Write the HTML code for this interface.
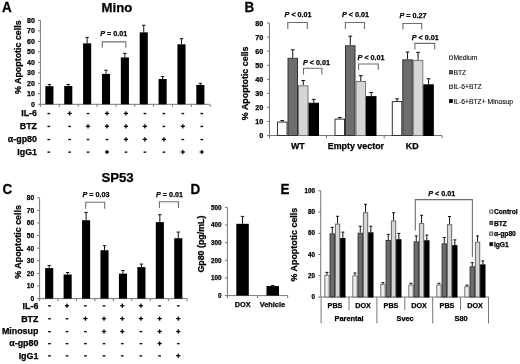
<!DOCTYPE html>
<html><head><meta charset="utf-8"><style>
html,body{margin:0;padding:0;background:#fff;}
body{width:520px;height:364px;overflow:hidden;}
svg{display:block;will-change:transform;}
text{stroke:currentColor;stroke-width:0.25px;font-family:"Liberation Sans", sans-serif;}
</style></head><body>
<svg width="520" height="364" viewBox="0 0 520 364">
<rect width="520" height="364" fill="#fff"/>
<text transform="translate(2.0 12.3) scale(0.95 1)" x="0" y="0" font-size="14.2" font-weight="bold">A</text>
<text x="101.6" y="11.8" font-size="13.2" text-anchor="start" font-weight="bold" fill="#000">Mino</text>
<line x1="40.4" y1="20.39999999999999" x2="40.4" y2="104.3" stroke="#777777" stroke-width="1"/>
<line x1="37.9" y1="104.3" x2="40.4" y2="104.3" stroke="#777777" stroke-width="1"/>
<text x="34.8" y="106.7" font-size="7.0" text-anchor="end" font-weight="bold" fill="#000">0</text>
<line x1="37.9" y1="93.8125" x2="40.4" y2="93.8125" stroke="#777777" stroke-width="1"/>
<text x="34.8" y="96.2125" font-size="7.0" text-anchor="end" font-weight="bold" fill="#000">10</text>
<line x1="37.9" y1="83.32499999999999" x2="40.4" y2="83.32499999999999" stroke="#777777" stroke-width="1"/>
<text x="34.8" y="85.725" font-size="7.0" text-anchor="end" font-weight="bold" fill="#000">20</text>
<line x1="37.9" y1="72.8375" x2="40.4" y2="72.8375" stroke="#777777" stroke-width="1"/>
<text x="34.8" y="75.23750000000001" font-size="7.0" text-anchor="end" font-weight="bold" fill="#000">30</text>
<line x1="37.9" y1="62.349999999999994" x2="40.4" y2="62.349999999999994" stroke="#777777" stroke-width="1"/>
<text x="34.8" y="64.75" font-size="7.0" text-anchor="end" font-weight="bold" fill="#000">40</text>
<line x1="37.9" y1="51.8625" x2="40.4" y2="51.8625" stroke="#777777" stroke-width="1"/>
<text x="34.8" y="54.262499999999996" font-size="7.0" text-anchor="end" font-weight="bold" fill="#000">50</text>
<line x1="37.9" y1="41.375" x2="40.4" y2="41.375" stroke="#777777" stroke-width="1"/>
<text x="34.8" y="43.775" font-size="7.0" text-anchor="end" font-weight="bold" fill="#000">60</text>
<line x1="37.9" y1="30.887500000000003" x2="40.4" y2="30.887500000000003" stroke="#777777" stroke-width="1"/>
<text x="34.8" y="33.2875" font-size="7.0" text-anchor="end" font-weight="bold" fill="#000">70</text>
<line x1="37.9" y1="20.39999999999999" x2="40.4" y2="20.39999999999999" stroke="#777777" stroke-width="1"/>
<text x="34.8" y="22.79999999999999" font-size="7.0" text-anchor="end" font-weight="bold" fill="#000">80</text>
<text x="21.3" y="57.2" font-size="8.9" text-anchor="middle" font-weight="bold" transform="rotate(-90 21.3 57.2)" fill="#000">% Apoptotic cells</text>
<line x1="40.4" y1="104.3" x2="209.6" y2="104.3" stroke="#777777" stroke-width="1"/>
<line x1="40.4" y1="104.3" x2="40.4" y2="106.89999999999999" stroke="#777777" stroke-width="1"/>
<line x1="59.269999999999996" y1="104.3" x2="59.269999999999996" y2="106.89999999999999" stroke="#777777" stroke-width="1"/>
<line x1="78.14" y1="104.3" x2="78.14" y2="106.89999999999999" stroke="#777777" stroke-width="1"/>
<line x1="97.00999999999999" y1="104.3" x2="97.00999999999999" y2="106.89999999999999" stroke="#777777" stroke-width="1"/>
<line x1="115.88" y1="104.3" x2="115.88" y2="106.89999999999999" stroke="#777777" stroke-width="1"/>
<line x1="134.75" y1="104.3" x2="134.75" y2="106.89999999999999" stroke="#777777" stroke-width="1"/>
<line x1="153.62" y1="104.3" x2="153.62" y2="106.89999999999999" stroke="#777777" stroke-width="1"/>
<line x1="172.49" y1="104.3" x2="172.49" y2="106.89999999999999" stroke="#777777" stroke-width="1"/>
<line x1="191.36" y1="104.3" x2="191.36" y2="106.89999999999999" stroke="#777777" stroke-width="1"/>
<line x1="210.23000000000002" y1="104.3" x2="210.23000000000002" y2="106.89999999999999" stroke="#777777" stroke-width="1"/>
<line x1="49.4" y1="86.15662499999999" x2="49.4" y2="84.58349999999999" stroke="#111" stroke-width="1"/>
<line x1="47.699999999999996" y1="84.58349999999999" x2="51.1" y2="84.58349999999999" stroke="#111" stroke-width="1"/>
<rect x="45.35" y="86.15662499999999" width="8.1" height="18.143375000000006" fill="#000"/>
<line x1="68.27" y1="86.05175" x2="68.27" y2="84.478625" stroke="#111" stroke-width="1"/>
<line x1="66.57" y1="84.478625" x2="69.97" y2="84.478625" stroke="#111" stroke-width="1"/>
<rect x="64.22" y="86.05175" width="8.1" height="18.24825" fill="#000"/>
<line x1="87.14" y1="43.367625" x2="87.14" y2="37.38975000000001" stroke="#111" stroke-width="1"/>
<line x1="85.44" y1="37.38975000000001" x2="88.84" y2="37.38975000000001" stroke="#111" stroke-width="1"/>
<rect x="83.09" y="43.367625" width="8.1" height="60.932375" fill="#000"/>
<line x1="106.00999999999999" y1="73.88624999999999" x2="106.00999999999999" y2="70.21562499999999" stroke="#111" stroke-width="1"/>
<line x1="104.30999999999999" y1="70.21562499999999" x2="107.71" y2="70.21562499999999" stroke="#111" stroke-width="1"/>
<rect x="101.96" y="73.88624999999999" width="8.1" height="30.413750000000007" fill="#000"/>
<line x1="124.88" y1="57.420874999999995" x2="124.88" y2="53.330749999999995" stroke="#111" stroke-width="1"/>
<line x1="123.17999999999999" y1="53.330749999999995" x2="126.58" y2="53.330749999999995" stroke="#111" stroke-width="1"/>
<rect x="120.83" y="57.420874999999995" width="8.1" height="46.879125" fill="#000"/>
<line x1="143.75" y1="32.35575" x2="143.75" y2="25.224249999999984" stroke="#111" stroke-width="1"/>
<line x1="142.05" y1="25.224249999999984" x2="145.45" y2="25.224249999999984" stroke="#111" stroke-width="1"/>
<rect x="139.7" y="32.35575" width="8.1" height="71.94425" fill="#000"/>
<line x1="162.62" y1="79.025125" x2="162.62" y2="76.613" stroke="#111" stroke-width="1"/>
<line x1="160.92000000000002" y1="76.613" x2="164.32" y2="76.613" stroke="#111" stroke-width="1"/>
<rect x="158.57" y="79.025125" width="8.1" height="25.274874999999994" fill="#000"/>
<line x1="181.49" y1="44.31149999999999" x2="181.49" y2="38.64824999999999" stroke="#111" stroke-width="1"/>
<line x1="179.79000000000002" y1="38.64824999999999" x2="183.19" y2="38.64824999999999" stroke="#111" stroke-width="1"/>
<rect x="177.44" y="44.31149999999999" width="8.1" height="59.98850000000001" fill="#000"/>
<line x1="200.36" y1="84.898125" x2="200.36" y2="83.32499999999999" stroke="#111" stroke-width="1"/>
<line x1="198.66000000000003" y1="83.32499999999999" x2="202.06" y2="83.32499999999999" stroke="#111" stroke-width="1"/>
<rect x="196.31" y="84.898125" width="8.1" height="19.401875000000004" fill="#000"/>
<polyline points="102.3,47.7 102.3,41.9 125.8,41.9 125.8,47.7" fill="none" stroke="#6e6e6e" stroke-width="1.1"/>
<text x="113.7" y="35.6" font-size="7.2" text-anchor="middle" font-weight="bold"><tspan font-style="italic">P</tspan> = 0.01</text>
<text x="37" y="116.3" font-size="8.9" text-anchor="end" font-weight="bold" fill="#000">IL-6</text>
<rect x="47.449999999999996" y="112.85" width="2.7" height="1.4" fill="#111"/>
<rect x="67.5" y="112.75" width="4.2" height="1.3" fill="#000"/>
<rect x="68.94999999999999" y="111.3" width="1.3" height="4.2" fill="#000"/>
<rect x="86.67000000000002" y="112.85" width="2.7" height="1.4" fill="#111"/>
<rect x="104.88000000000001" y="112.75" width="4.2" height="1.3" fill="#000"/>
<rect x="106.33" y="111.3" width="1.3" height="4.2" fill="#000"/>
<rect x="123.84" y="112.75" width="4.2" height="1.3" fill="#000"/>
<rect x="125.28999999999999" y="111.3" width="1.3" height="4.2" fill="#000"/>
<rect x="143.55" y="112.85" width="2.7" height="1.4" fill="#111"/>
<rect x="162.51000000000002" y="112.85" width="2.7" height="1.4" fill="#111"/>
<rect x="181.47" y="112.85" width="2.7" height="1.4" fill="#111"/>
<rect x="200.43" y="112.85" width="2.7" height="1.4" fill="#111"/>
<text x="37" y="129.2" font-size="8.9" text-anchor="end" font-weight="bold" fill="#000">BTZ</text>
<rect x="47.449999999999996" y="125.74999999999999" width="2.7" height="1.4" fill="#111"/>
<rect x="68.25" y="125.74999999999999" width="2.7" height="1.4" fill="#111"/>
<rect x="85.92000000000002" y="125.64999999999999" width="4.2" height="1.3" fill="#000"/>
<rect x="87.37" y="124.19999999999999" width="1.3" height="4.2" fill="#000"/>
<rect x="104.88000000000001" y="125.64999999999999" width="4.2" height="1.3" fill="#000"/>
<rect x="106.33" y="124.19999999999999" width="1.3" height="4.2" fill="#000"/>
<rect x="123.84" y="125.64999999999999" width="4.2" height="1.3" fill="#000"/>
<rect x="125.28999999999999" y="124.19999999999999" width="1.3" height="4.2" fill="#000"/>
<rect x="142.8" y="125.64999999999999" width="4.2" height="1.3" fill="#000"/>
<rect x="144.25" y="124.19999999999999" width="1.3" height="4.2" fill="#000"/>
<rect x="162.51000000000002" y="125.74999999999999" width="2.7" height="1.4" fill="#111"/>
<rect x="180.72" y="125.64999999999999" width="4.2" height="1.3" fill="#000"/>
<rect x="182.17" y="124.19999999999999" width="1.3" height="4.2" fill="#000"/>
<rect x="200.43" y="125.74999999999999" width="2.7" height="1.4" fill="#111"/>
<text x="37" y="142.3" font-size="8.9" text-anchor="end" font-weight="bold" fill="#000">&#945;-gp80</text>
<rect x="47.449999999999996" y="138.85000000000002" width="2.7" height="1.4" fill="#111"/>
<rect x="68.25" y="138.85000000000002" width="2.7" height="1.4" fill="#111"/>
<rect x="86.67000000000002" y="138.85000000000002" width="2.7" height="1.4" fill="#111"/>
<rect x="105.63000000000001" y="138.85000000000002" width="2.7" height="1.4" fill="#111"/>
<rect x="123.84" y="138.75" width="4.2" height="1.3" fill="#000"/>
<rect x="125.28999999999999" y="137.3" width="1.3" height="4.2" fill="#000"/>
<rect x="142.8" y="138.75" width="4.2" height="1.3" fill="#000"/>
<rect x="144.25" y="137.3" width="1.3" height="4.2" fill="#000"/>
<rect x="161.76000000000002" y="138.75" width="4.2" height="1.3" fill="#000"/>
<rect x="163.21" y="137.3" width="1.3" height="4.2" fill="#000"/>
<rect x="181.47" y="138.85000000000002" width="2.7" height="1.4" fill="#111"/>
<rect x="200.43" y="138.85000000000002" width="2.7" height="1.4" fill="#111"/>
<text x="37" y="154.9" font-size="8.9" text-anchor="end" font-weight="bold" fill="#000">IgG1</text>
<rect x="47.449999999999996" y="151.45000000000002" width="2.7" height="1.4" fill="#111"/>
<rect x="68.25" y="151.45000000000002" width="2.7" height="1.4" fill="#111"/>
<rect x="86.67000000000002" y="151.45000000000002" width="2.7" height="1.4" fill="#111"/>
<rect x="104.88000000000001" y="151.35" width="4.2" height="1.3" fill="#000"/>
<rect x="106.33" y="149.9" width="1.3" height="4.2" fill="#000"/>
<rect x="124.59" y="151.45000000000002" width="2.7" height="1.4" fill="#111"/>
<rect x="143.55" y="151.45000000000002" width="2.7" height="1.4" fill="#111"/>
<rect x="162.51000000000002" y="151.45000000000002" width="2.7" height="1.4" fill="#111"/>
<rect x="180.72" y="151.35" width="4.2" height="1.3" fill="#000"/>
<rect x="182.17" y="149.9" width="1.3" height="4.2" fill="#000"/>
<rect x="199.68" y="151.35" width="4.2" height="1.3" fill="#000"/>
<rect x="201.13" y="149.9" width="1.3" height="4.2" fill="#000"/>
<text transform="translate(244.5 12.2) scale(0.95 1)" x="0" y="0" font-size="14.2" font-weight="bold">B</text>
<line x1="269.5" y1="23.099999999999994" x2="269.5" y2="135.5" stroke="#777777" stroke-width="1"/>
<line x1="267.0" y1="135.5" x2="269.5" y2="135.5" stroke="#777777" stroke-width="1"/>
<text x="263.2" y="138.0" font-size="7.2" text-anchor="end" font-weight="bold" fill="#000">0</text>
<line x1="267.0" y1="121.45" x2="269.5" y2="121.45" stroke="#777777" stroke-width="1"/>
<text x="263.2" y="123.95" font-size="7.2" text-anchor="end" font-weight="bold" fill="#000">10</text>
<line x1="267.0" y1="107.4" x2="269.5" y2="107.4" stroke="#777777" stroke-width="1"/>
<text x="263.2" y="109.9" font-size="7.2" text-anchor="end" font-weight="bold" fill="#000">20</text>
<line x1="267.0" y1="93.35" x2="269.5" y2="93.35" stroke="#777777" stroke-width="1"/>
<text x="263.2" y="95.85" font-size="7.2" text-anchor="end" font-weight="bold" fill="#000">30</text>
<line x1="267.0" y1="79.3" x2="269.5" y2="79.3" stroke="#777777" stroke-width="1"/>
<text x="263.2" y="81.8" font-size="7.2" text-anchor="end" font-weight="bold" fill="#000">40</text>
<line x1="267.0" y1="65.25" x2="269.5" y2="65.25" stroke="#777777" stroke-width="1"/>
<text x="263.2" y="67.75" font-size="7.2" text-anchor="end" font-weight="bold" fill="#000">50</text>
<line x1="267.0" y1="51.2" x2="269.5" y2="51.2" stroke="#777777" stroke-width="1"/>
<text x="263.2" y="53.7" font-size="7.2" text-anchor="end" font-weight="bold" fill="#000">60</text>
<line x1="267.0" y1="37.150000000000006" x2="269.5" y2="37.150000000000006" stroke="#777777" stroke-width="1"/>
<text x="263.2" y="39.650000000000006" font-size="7.2" text-anchor="end" font-weight="bold" fill="#000">70</text>
<line x1="267.0" y1="23.099999999999994" x2="269.5" y2="23.099999999999994" stroke="#777777" stroke-width="1"/>
<text x="263.2" y="25.599999999999994" font-size="7.2" text-anchor="end" font-weight="bold" fill="#000">80</text>
<text x="248.0" y="83.3" font-size="8.9" text-anchor="middle" font-weight="bold" transform="rotate(-90 248.0 83.3)" fill="#000">% Apoptotic cells</text>
<line x1="269.5" y1="135.5" x2="442" y2="135.5" stroke="#777777" stroke-width="1"/>
<line x1="269.5" y1="135.5" x2="269.5" y2="138.3" stroke="#777777" stroke-width="1"/>
<line x1="326.5" y1="135.5" x2="326.5" y2="138.3" stroke="#777777" stroke-width="1"/>
<line x1="384.2" y1="135.5" x2="384.2" y2="138.3" stroke="#777777" stroke-width="1"/>
<line x1="442" y1="135.5" x2="442" y2="138.3" stroke="#777777" stroke-width="1"/>
<line x1="282.25" y1="121.5905" x2="282.25" y2="120.607" stroke="#111" stroke-width="1"/>
<line x1="280.35" y1="120.607" x2="284.15" y2="120.607" stroke="#111" stroke-width="1"/>
<rect x="277.5" y="122.0905" width="9.5" height="13.409499999999994" fill="#fff" stroke="#333" stroke-width="1"/>
<line x1="292.75" y1="57.8035" x2="292.75" y2="49.79499999999999" stroke="#111" stroke-width="1"/>
<line x1="290.85" y1="49.79499999999999" x2="294.65" y2="49.79499999999999" stroke="#111" stroke-width="1"/>
<rect x="288.0" y="58.3035" width="9.5" height="77.1965" fill="#6d6d6d" stroke="#333" stroke-width="1"/>
<line x1="303.25" y1="85.3415" x2="303.25" y2="80.5645" stroke="#111" stroke-width="1"/>
<line x1="301.35" y1="80.5645" x2="305.15" y2="80.5645" stroke="#111" stroke-width="1"/>
<rect x="298.5" y="85.8415" width="9.5" height="49.658500000000004" fill="#d6d6d6" stroke="#777" stroke-width="1"/>
<line x1="313.75" y1="102.7635" x2="313.75" y2="99.3915" stroke="#111" stroke-width="1"/>
<line x1="311.85" y1="99.3915" x2="315.65" y2="99.3915" stroke="#111" stroke-width="1"/>
<rect x="309.0" y="103.2635" width="9.5" height="32.23650000000001" fill="#000" stroke="#000" stroke-width="1"/>
<line x1="339.75" y1="118.64" x2="339.75" y2="117.51599999999999" stroke="#111" stroke-width="1"/>
<line x1="337.85" y1="117.51599999999999" x2="341.65" y2="117.51599999999999" stroke="#111" stroke-width="1"/>
<rect x="335.0" y="119.14" width="9.5" height="16.36" fill="#fff" stroke="#333" stroke-width="1"/>
<line x1="350.25" y1="45.29899999999999" x2="350.25" y2="36.1665" stroke="#111" stroke-width="1"/>
<line x1="348.35" y1="36.1665" x2="352.15" y2="36.1665" stroke="#111" stroke-width="1"/>
<rect x="345.5" y="45.79899999999999" width="9.5" height="89.70100000000001" fill="#6d6d6d" stroke="#333" stroke-width="1"/>
<line x1="360.75" y1="80.986" x2="360.75" y2="75.64699999999999" stroke="#111" stroke-width="1"/>
<line x1="358.85" y1="75.64699999999999" x2="362.65" y2="75.64699999999999" stroke="#111" stroke-width="1"/>
<rect x="356.0" y="81.486" width="9.5" height="54.013999999999996" fill="#d6d6d6" stroke="#777" stroke-width="1"/>
<line x1="371.25" y1="96.16" x2="371.25" y2="92.50699999999999" stroke="#111" stroke-width="1"/>
<line x1="369.35" y1="92.50699999999999" x2="373.15" y2="92.50699999999999" stroke="#111" stroke-width="1"/>
<rect x="366.5" y="96.66" width="9.5" height="38.84" fill="#000" stroke="#000" stroke-width="1"/>
<line x1="397.05" y1="101.0775" x2="397.05" y2="98.8295" stroke="#111" stroke-width="1"/>
<line x1="395.15000000000003" y1="98.8295" x2="398.95" y2="98.8295" stroke="#111" stroke-width="1"/>
<rect x="392.3" y="101.5775" width="9.5" height="33.9225" fill="#fff" stroke="#333" stroke-width="1"/>
<line x1="407.55" y1="59.34899999999999" x2="407.55" y2="52.04299999999999" stroke="#111" stroke-width="1"/>
<line x1="405.65000000000003" y1="52.04299999999999" x2="409.45" y2="52.04299999999999" stroke="#111" stroke-width="1"/>
<rect x="402.8" y="59.84899999999999" width="9.5" height="75.65100000000001" fill="#6d6d6d" stroke="#333" stroke-width="1"/>
<line x1="418.05" y1="59.911" x2="418.05" y2="52.323999999999984" stroke="#111" stroke-width="1"/>
<line x1="416.15000000000003" y1="52.323999999999984" x2="419.95" y2="52.323999999999984" stroke="#111" stroke-width="1"/>
<rect x="413.3" y="60.411" width="9.5" height="75.089" fill="#d6d6d6" stroke="#777" stroke-width="1"/>
<line x1="428.55" y1="84.358" x2="428.55" y2="78.738" stroke="#111" stroke-width="1"/>
<line x1="426.65000000000003" y1="78.738" x2="430.45" y2="78.738" stroke="#111" stroke-width="1"/>
<rect x="423.8" y="84.858" width="9.5" height="50.641999999999996" fill="#000" stroke="#000" stroke-width="1"/>
<text x="297.9" y="148.6" font-size="8.9" text-anchor="middle" font-weight="bold" fill="#000">WT</text>
<text x="355.9" y="148.6" font-size="8.9" text-anchor="middle" font-weight="bold" fill="#000">Empty vector</text>
<text x="412.2" y="148.6" font-size="8.9" text-anchor="middle" font-weight="bold" fill="#000">KD</text>
<polyline points="287.8,29 287.8,22.5 307.3,22.5 307.3,29" fill="none" stroke="#6e6e6e" stroke-width="1.1"/>
<text x="298.1" y="17.1" font-size="7.2" text-anchor="middle" font-weight="bold"><tspan font-style="italic">P</tspan> &lt; 0.01</text>
<polyline points="303.5,74.6 303.5,68.3 321.9,68.3 321.9,74.6" fill="none" stroke="#6e6e6e" stroke-width="1.1"/>
<text x="316.5" y="65.0" font-size="7.2" text-anchor="middle" font-weight="bold"><tspan font-style="italic">P</tspan> &lt; 0.01</text>
<polyline points="345.4,29 345.4,22.5 364.5,22.5 364.5,29" fill="none" stroke="#6e6e6e" stroke-width="1.1"/>
<text x="355.4" y="17.1" font-size="7.2" text-anchor="middle" font-weight="bold"><tspan font-style="italic">P</tspan> &lt; 0.01</text>
<polyline points="358.6,70 358.6,64 378.3,64 378.3,70" fill="none" stroke="#6e6e6e" stroke-width="1.1"/>
<text x="371.1" y="60.2" font-size="7.2" text-anchor="middle" font-weight="bold"><tspan font-style="italic">P</tspan> &lt; 0.01</text>
<polyline points="402.9,29.6 402.9,23.5 421.7,23.5 421.7,29.6" fill="none" stroke="#6e6e6e" stroke-width="1.1"/>
<text x="413" y="18" font-size="7.2" text-anchor="middle" font-weight="bold"><tspan font-style="italic">P</tspan> = 0.27</text>
<polyline points="414.9,49.6 414.9,43.4 434.7,43.4 434.7,49.6" fill="none" stroke="#6e6e6e" stroke-width="1.1"/>
<text x="425.2" y="40.4" font-size="7.2" text-anchor="middle" font-weight="bold"><tspan font-style="italic">P</tspan> &lt; 0.01</text>
<rect x="449.4" y="55.95" width="3.1" height="3.3" fill="#fff" stroke="#111" stroke-width="0.7"/>
<text x="453.4" y="60.3" font-size="6.75" font-weight="normal" fill="#111" style="stroke-width:0.12px">Medium</text>
<rect x="449.4" y="70.65" width="3.1" height="3.3" fill="#6d6d6d" stroke="#111" stroke-width="0.7"/>
<text x="453.4" y="75.0" font-size="6.75" font-weight="normal" fill="#111" style="stroke-width:0.12px">BTZ</text>
<rect x="449.4" y="85.05" width="3.1" height="3.3" fill="#d6d6d6" stroke="#111" stroke-width="0.7"/>
<text x="453.4" y="89.39999999999999" font-size="6.75" font-weight="normal" fill="#111" style="stroke-width:0.12px">IL-6+BTZ</text>
<rect x="449.4" y="99.35000000000001" width="3.1" height="3.3" fill="#000" stroke="#111" stroke-width="0.7"/>
<text x="453.4" y="103.7" font-size="6.75" font-weight="normal" fill="#111" style="stroke-width:0.12px">IL-6+BTZ+ Minosup</text>
<text transform="translate(2.5 194.2) scale(0.95 1)" x="0" y="0" font-size="14.2" font-weight="bold">C</text>
<text x="101.4" y="182.0" font-size="13.2" text-anchor="start" font-weight="bold" fill="#000">SP53</text>
<line x1="39.6" y1="197.8" x2="39.6" y2="298.6" stroke="#777777" stroke-width="1"/>
<line x1="37.1" y1="298.6" x2="39.6" y2="298.6" stroke="#777777" stroke-width="1"/>
<text x="34.2" y="300.90000000000003" font-size="6.6" text-anchor="end" font-weight="bold" fill="#000">0</text>
<line x1="37.1" y1="286.0" x2="39.6" y2="286.0" stroke="#777777" stroke-width="1"/>
<text x="34.2" y="288.3" font-size="6.6" text-anchor="end" font-weight="bold" fill="#000">10</text>
<line x1="37.1" y1="273.40000000000003" x2="39.6" y2="273.40000000000003" stroke="#777777" stroke-width="1"/>
<text x="34.2" y="275.70000000000005" font-size="6.6" text-anchor="end" font-weight="bold" fill="#000">20</text>
<line x1="37.1" y1="260.8" x2="39.6" y2="260.8" stroke="#777777" stroke-width="1"/>
<text x="34.2" y="263.1" font-size="6.6" text-anchor="end" font-weight="bold" fill="#000">30</text>
<line x1="37.1" y1="248.20000000000002" x2="39.6" y2="248.20000000000002" stroke="#777777" stroke-width="1"/>
<text x="34.2" y="250.50000000000003" font-size="6.6" text-anchor="end" font-weight="bold" fill="#000">40</text>
<line x1="37.1" y1="235.60000000000002" x2="39.6" y2="235.60000000000002" stroke="#777777" stroke-width="1"/>
<text x="34.2" y="237.90000000000003" font-size="6.6" text-anchor="end" font-weight="bold" fill="#000">50</text>
<line x1="37.1" y1="223.0" x2="39.6" y2="223.0" stroke="#777777" stroke-width="1"/>
<text x="34.2" y="225.3" font-size="6.6" text-anchor="end" font-weight="bold" fill="#000">60</text>
<line x1="37.1" y1="210.4" x2="39.6" y2="210.4" stroke="#777777" stroke-width="1"/>
<text x="34.2" y="212.70000000000002" font-size="6.6" text-anchor="end" font-weight="bold" fill="#000">70</text>
<line x1="37.1" y1="197.8" x2="39.6" y2="197.8" stroke="#777777" stroke-width="1"/>
<text x="34.2" y="200.10000000000002" font-size="6.6" text-anchor="end" font-weight="bold" fill="#000">80</text>
<text x="21.3" y="241.9" font-size="8.9" text-anchor="middle" font-weight="bold" transform="rotate(-90 21.3 241.9)" fill="#000">% Apoptotic cells</text>
<line x1="39.6" y1="298.6" x2="186.8" y2="298.6" stroke="#777777" stroke-width="1"/>
<line x1="39.6" y1="298.6" x2="39.6" y2="301.20000000000005" stroke="#777777" stroke-width="1"/>
<line x1="58.040000000000006" y1="298.6" x2="58.040000000000006" y2="301.20000000000005" stroke="#777777" stroke-width="1"/>
<line x1="76.48" y1="298.6" x2="76.48" y2="301.20000000000005" stroke="#777777" stroke-width="1"/>
<line x1="94.92000000000002" y1="298.6" x2="94.92000000000002" y2="301.20000000000005" stroke="#777777" stroke-width="1"/>
<line x1="113.36000000000001" y1="298.6" x2="113.36000000000001" y2="301.20000000000005" stroke="#777777" stroke-width="1"/>
<line x1="131.8" y1="298.6" x2="131.8" y2="301.20000000000005" stroke="#777777" stroke-width="1"/>
<line x1="150.24" y1="298.6" x2="150.24" y2="301.20000000000005" stroke="#777777" stroke-width="1"/>
<line x1="168.68" y1="298.6" x2="168.68" y2="301.20000000000005" stroke="#777777" stroke-width="1"/>
<line x1="187.12" y1="298.6" x2="187.12" y2="301.20000000000005" stroke="#777777" stroke-width="1"/>
<line x1="49.2" y1="268.108" x2="49.2" y2="265.462" stroke="#111" stroke-width="1"/>
<line x1="47.5" y1="265.462" x2="50.900000000000006" y2="265.462" stroke="#111" stroke-width="1"/>
<rect x="45.150000000000006" y="268.108" width="8.1" height="30.49200000000002" fill="#000"/>
<line x1="67.64" y1="274.534" x2="67.64" y2="272.51800000000003" stroke="#111" stroke-width="1"/>
<line x1="65.94" y1="272.51800000000003" x2="69.34" y2="272.51800000000003" stroke="#111" stroke-width="1"/>
<rect x="63.59" y="274.534" width="8.1" height="24.06600000000003" fill="#000"/>
<line x1="86.08000000000001" y1="220.228" x2="86.08000000000001" y2="212.416" stroke="#111" stroke-width="1"/>
<line x1="84.38000000000001" y1="212.416" x2="87.78000000000002" y2="212.416" stroke="#111" stroke-width="1"/>
<rect x="82.03000000000002" y="220.228" width="8.1" height="78.37200000000001" fill="#000"/>
<line x1="104.52000000000001" y1="250.216" x2="104.52000000000001" y2="245.68" stroke="#111" stroke-width="1"/>
<line x1="102.82000000000001" y1="245.68" x2="106.22000000000001" y2="245.68" stroke="#111" stroke-width="1"/>
<rect x="100.47000000000001" y="250.216" width="8.1" height="48.384000000000015" fill="#000"/>
<line x1="122.96000000000001" y1="273.65200000000004" x2="122.96000000000001" y2="270.502" stroke="#111" stroke-width="1"/>
<line x1="121.26" y1="270.502" x2="124.66000000000001" y2="270.502" stroke="#111" stroke-width="1"/>
<rect x="118.91000000000001" y="273.65200000000004" width="8.1" height="24.94799999999998" fill="#000"/>
<line x1="141.4" y1="267.1" x2="141.4" y2="264.076" stroke="#111" stroke-width="1"/>
<line x1="139.70000000000002" y1="264.076" x2="143.1" y2="264.076" stroke="#111" stroke-width="1"/>
<rect x="137.35" y="267.1" width="8.1" height="31.5" fill="#000"/>
<line x1="159.84000000000003" y1="222.118" x2="159.84000000000003" y2="214.68400000000003" stroke="#111" stroke-width="1"/>
<line x1="158.14000000000004" y1="214.68400000000003" x2="161.54000000000002" y2="214.68400000000003" stroke="#111" stroke-width="1"/>
<rect x="155.79000000000002" y="222.118" width="8.1" height="76.48200000000003" fill="#000"/>
<line x1="178.28000000000003" y1="238.246" x2="178.28000000000003" y2="232.072" stroke="#111" stroke-width="1"/>
<line x1="176.58000000000004" y1="232.072" x2="179.98000000000002" y2="232.072" stroke="#111" stroke-width="1"/>
<rect x="174.23000000000002" y="238.246" width="8.1" height="60.35400000000001" fill="#000"/>
<polyline points="85.7,208.8 85.7,202.3 104.7,202.3 104.7,208.8" fill="none" stroke="#6e6e6e" stroke-width="1.1"/>
<text x="95.9" y="196.5" font-size="7.2" text-anchor="middle" font-weight="bold"><tspan font-style="italic">P</tspan> = 0.03</text>
<polyline points="159.4,207.9 159.4,201.8 178.5,201.8 178.5,207.9" fill="none" stroke="#6e6e6e" stroke-width="1.1"/>
<text x="169.4" y="196.5" font-size="7.2" text-anchor="middle" font-weight="bold"><tspan font-style="italic">P</tspan> = 0.01</text>
<text x="38.4" y="308.6" font-size="8.9" text-anchor="end" font-weight="bold" fill="#000">IL-6</text>
<rect x="48.15" y="305.15000000000003" width="2.7" height="1.4" fill="#111"/>
<rect x="64.9" y="305.05" width="4.2" height="1.3" fill="#000"/>
<rect x="66.35" y="303.6" width="1.3" height="4.2" fill="#000"/>
<rect x="84.05000000000001" y="305.15000000000003" width="2.7" height="1.4" fill="#111"/>
<rect x="102.65" y="305.15000000000003" width="2.7" height="1.4" fill="#111"/>
<rect x="120.2" y="305.05" width="4.2" height="1.3" fill="#000"/>
<rect x="121.64999999999999" y="303.6" width="1.3" height="4.2" fill="#000"/>
<rect x="138.8" y="305.05" width="4.2" height="1.3" fill="#000"/>
<rect x="140.25" y="303.6" width="1.3" height="4.2" fill="#000"/>
<rect x="158.25" y="305.15000000000003" width="2.7" height="1.4" fill="#111"/>
<rect x="176.95000000000002" y="305.15000000000003" width="2.7" height="1.4" fill="#111"/>
<text x="38.4" y="321.5" font-size="8.9" text-anchor="end" font-weight="bold" fill="#000">BTZ</text>
<rect x="48.15" y="318.05" width="2.7" height="1.4" fill="#111"/>
<rect x="65.65" y="318.05" width="2.7" height="1.4" fill="#111"/>
<rect x="83.30000000000001" y="317.95" width="4.2" height="1.3" fill="#000"/>
<rect x="84.75" y="316.5" width="1.3" height="4.2" fill="#000"/>
<rect x="101.9" y="317.95" width="4.2" height="1.3" fill="#000"/>
<rect x="103.35" y="316.5" width="1.3" height="4.2" fill="#000"/>
<rect x="120.2" y="317.95" width="4.2" height="1.3" fill="#000"/>
<rect x="121.64999999999999" y="316.5" width="1.3" height="4.2" fill="#000"/>
<rect x="138.8" y="317.95" width="4.2" height="1.3" fill="#000"/>
<rect x="140.25" y="316.5" width="1.3" height="4.2" fill="#000"/>
<rect x="157.5" y="317.95" width="4.2" height="1.3" fill="#000"/>
<rect x="158.95" y="316.5" width="1.3" height="4.2" fill="#000"/>
<rect x="176.20000000000002" y="317.95" width="4.2" height="1.3" fill="#000"/>
<rect x="177.65" y="316.5" width="1.3" height="4.2" fill="#000"/>
<text x="38.4" y="334.4" font-size="8.9" text-anchor="end" font-weight="bold" fill="#000">Minosup</text>
<rect x="48.15" y="330.95" width="2.7" height="1.4" fill="#111"/>
<rect x="65.65" y="330.95" width="2.7" height="1.4" fill="#111"/>
<rect x="84.05000000000001" y="330.95" width="2.7" height="1.4" fill="#111"/>
<rect x="101.9" y="330.84999999999997" width="4.2" height="1.3" fill="#000"/>
<rect x="103.35" y="329.4" width="1.3" height="4.2" fill="#000"/>
<rect x="120.2" y="330.84999999999997" width="4.2" height="1.3" fill="#000"/>
<rect x="121.64999999999999" y="329.4" width="1.3" height="4.2" fill="#000"/>
<rect x="139.55" y="330.95" width="2.7" height="1.4" fill="#111"/>
<rect x="157.5" y="330.84999999999997" width="4.2" height="1.3" fill="#000"/>
<rect x="158.95" y="329.4" width="1.3" height="4.2" fill="#000"/>
<rect x="176.20000000000002" y="330.84999999999997" width="4.2" height="1.3" fill="#000"/>
<rect x="177.65" y="329.4" width="1.3" height="4.2" fill="#000"/>
<text x="38.4" y="346.4" font-size="8.9" text-anchor="end" font-weight="bold" fill="#000">&#945;-gp80</text>
<rect x="48.15" y="342.95" width="2.7" height="1.4" fill="#111"/>
<rect x="65.65" y="342.95" width="2.7" height="1.4" fill="#111"/>
<rect x="84.05000000000001" y="342.95" width="2.7" height="1.4" fill="#111"/>
<rect x="102.65" y="342.95" width="2.7" height="1.4" fill="#111"/>
<rect x="120.95" y="342.95" width="2.7" height="1.4" fill="#111"/>
<rect x="139.55" y="342.95" width="2.7" height="1.4" fill="#111"/>
<rect x="157.5" y="342.84999999999997" width="4.2" height="1.3" fill="#000"/>
<rect x="158.95" y="341.4" width="1.3" height="4.2" fill="#000"/>
<rect x="176.95000000000002" y="342.95" width="2.7" height="1.4" fill="#111"/>
<text x="38.4" y="358.6" font-size="8.9" text-anchor="end" font-weight="bold" fill="#000">IgG1</text>
<rect x="48.15" y="355.15000000000003" width="2.7" height="1.4" fill="#111"/>
<rect x="65.65" y="355.15000000000003" width="2.7" height="1.4" fill="#111"/>
<rect x="84.05000000000001" y="355.15000000000003" width="2.7" height="1.4" fill="#111"/>
<rect x="102.65" y="355.15000000000003" width="2.7" height="1.4" fill="#111"/>
<rect x="120.95" y="355.15000000000003" width="2.7" height="1.4" fill="#111"/>
<rect x="139.55" y="355.15000000000003" width="2.7" height="1.4" fill="#111"/>
<rect x="158.25" y="355.15000000000003" width="2.7" height="1.4" fill="#111"/>
<rect x="176.20000000000002" y="355.05" width="4.2" height="1.3" fill="#000"/>
<rect x="177.65" y="353.6" width="1.3" height="4.2" fill="#000"/>
<text transform="translate(190.4 193.9) scale(0.95 1)" x="0" y="0" font-size="14.2" font-weight="bold">D</text>
<line x1="227.4" y1="207.4" x2="227.4" y2="295.6" stroke="#777777" stroke-width="1"/>
<line x1="224.9" y1="295.6" x2="227.4" y2="295.6" stroke="#777777" stroke-width="1"/>
<text x="221.6" y="297.8" font-size="6.3" text-anchor="end" font-weight="bold" fill="#000">0</text>
<line x1="224.9" y1="277.96000000000004" x2="227.4" y2="277.96000000000004" stroke="#777777" stroke-width="1"/>
<text x="221.6" y="280.16" font-size="6.3" text-anchor="end" font-weight="bold" fill="#000">100</text>
<line x1="224.9" y1="260.32" x2="227.4" y2="260.32" stroke="#777777" stroke-width="1"/>
<text x="221.6" y="262.52" font-size="6.3" text-anchor="end" font-weight="bold" fill="#000">200</text>
<line x1="224.9" y1="242.68" x2="227.4" y2="242.68" stroke="#777777" stroke-width="1"/>
<text x="221.6" y="244.88" font-size="6.3" text-anchor="end" font-weight="bold" fill="#000">300</text>
<line x1="224.9" y1="225.04000000000002" x2="227.4" y2="225.04000000000002" stroke="#777777" stroke-width="1"/>
<text x="221.6" y="227.24" font-size="6.3" text-anchor="end" font-weight="bold" fill="#000">400</text>
<line x1="224.9" y1="207.4" x2="227.4" y2="207.4" stroke="#777777" stroke-width="1"/>
<text x="221.6" y="209.6" font-size="6.3" text-anchor="end" font-weight="bold" fill="#000">500</text>
<text x="203.6" y="244.1" font-size="8.6" text-anchor="middle" font-weight="bold" transform="rotate(-90 203.6 244.1)" textLength="57" lengthAdjust="spacingAndGlyphs" fill="#000">Gp80 (pg/mL)</text>
<line x1="227.4" y1="295.6" x2="287.7" y2="295.6" stroke="#777777" stroke-width="1"/>
<line x1="227.4" y1="295.6" x2="227.4" y2="298.20000000000005" stroke="#777777" stroke-width="1"/>
<line x1="257.5" y1="295.6" x2="257.5" y2="298.20000000000005" stroke="#777777" stroke-width="1"/>
<line x1="287.7" y1="295.6" x2="287.7" y2="298.20000000000005" stroke="#777777" stroke-width="1"/>
<line x1="242.55" y1="223.8052" x2="242.55" y2="216.3964" stroke="#111" stroke-width="1"/>
<line x1="240.85000000000002" y1="216.3964" x2="244.25" y2="216.3964" stroke="#111" stroke-width="1"/>
<rect x="236.3" y="223.8052" width="12.5" height="71.79480000000001" fill="#000"/>
<line x1="272.75" y1="286.0744" x2="272.75" y2="285.5452" stroke="#111" stroke-width="1"/>
<line x1="271.05" y1="285.5452" x2="274.45" y2="285.5452" stroke="#111" stroke-width="1"/>
<rect x="266.5" y="286.0744" width="12.5" height="9.525599999999997" fill="#000"/>
<text x="242.7" y="306.8" font-size="7.3" text-anchor="middle" font-weight="bold" fill="#000">DOX</text>
<text x="272.4" y="306.8" font-size="7.3" text-anchor="middle" font-weight="bold" fill="#000">Vehicle</text>
<text transform="translate(280.4 193.9) scale(0.95 1)" x="0" y="0" font-size="14.2" font-weight="bold">E</text>
<line x1="320.7" y1="190.8" x2="320.7" y2="297.0" stroke="#777777" stroke-width="1"/>
<line x1="318.2" y1="297.0" x2="320.7" y2="297.0" stroke="#777777" stroke-width="1"/>
<text x="315.0" y="299.2" font-size="6.3" text-anchor="end" font-weight="bold" fill="#000">0</text>
<line x1="318.2" y1="275.76" x2="320.7" y2="275.76" stroke="#777777" stroke-width="1"/>
<text x="315.0" y="277.96" font-size="6.3" text-anchor="end" font-weight="bold" fill="#000">20</text>
<line x1="318.2" y1="254.52" x2="320.7" y2="254.52" stroke="#777777" stroke-width="1"/>
<text x="315.0" y="256.72" font-size="6.3" text-anchor="end" font-weight="bold" fill="#000">40</text>
<line x1="318.2" y1="233.28" x2="320.7" y2="233.28" stroke="#777777" stroke-width="1"/>
<text x="315.0" y="235.48" font-size="6.3" text-anchor="end" font-weight="bold" fill="#000">60</text>
<line x1="318.2" y1="212.04000000000002" x2="320.7" y2="212.04000000000002" stroke="#777777" stroke-width="1"/>
<text x="315.0" y="214.24" font-size="6.3" text-anchor="end" font-weight="bold" fill="#000">80</text>
<line x1="318.2" y1="190.8" x2="320.7" y2="190.8" stroke="#777777" stroke-width="1"/>
<text x="315.0" y="193.0" font-size="6.3" text-anchor="end" font-weight="bold" fill="#000">100</text>
<text x="296.7" y="244.6" font-size="8.9" text-anchor="middle" font-weight="bold" transform="rotate(-90 296.7 244.6)" fill="#000">% Apoptotic cells</text>
<line x1="320.7" y1="297.0" x2="488.7" y2="297.0" stroke="#777777" stroke-width="1"/>
<line x1="326.95" y1="274.9104" x2="326.95" y2="272.3616" stroke="#111" stroke-width="1"/>
<line x1="325.45" y1="272.3616" x2="328.45" y2="272.3616" stroke="#111" stroke-width="1"/>
<rect x="324.8" y="275.4104" width="4.3" height="21.58960000000002" fill="#ececec" stroke="#777" stroke-width="1"/>
<line x1="332.25" y1="233.3862" x2="332.25" y2="227.33280000000002" stroke="#111" stroke-width="1"/>
<line x1="330.75" y1="227.33280000000002" x2="333.75" y2="227.33280000000002" stroke="#111" stroke-width="1"/>
<rect x="330.1" y="233.8862" width="4.3" height="63.1138" fill="#6d6d6d" stroke="#333" stroke-width="1"/>
<line x1="337.55" y1="223.61580000000004" x2="337.55" y2="216.288" stroke="#111" stroke-width="1"/>
<line x1="336.05" y1="216.288" x2="339.05" y2="216.288" stroke="#111" stroke-width="1"/>
<rect x="335.40000000000003" y="224.11580000000004" width="4.3" height="72.88419999999996" fill="#d6d6d6" stroke="#666" stroke-width="1"/>
<line x1="342.84999999999997" y1="238.059" x2="342.84999999999997" y2="232.11180000000002" stroke="#111" stroke-width="1"/>
<line x1="341.34999999999997" y1="232.11180000000002" x2="344.34999999999997" y2="232.11180000000002" stroke="#111" stroke-width="1"/>
<rect x="340.7" y="238.559" width="4.3" height="58.441" fill="#000" stroke="#000" stroke-width="1"/>
<line x1="354.95" y1="275.4414" x2="354.95" y2="272.9988" stroke="#111" stroke-width="1"/>
<line x1="353.45" y1="272.9988" x2="356.45" y2="272.9988" stroke="#111" stroke-width="1"/>
<rect x="352.8" y="275.9414" width="4.3" height="21.058600000000013" fill="#ececec" stroke="#777" stroke-width="1"/>
<line x1="360.25" y1="232.74900000000002" x2="360.25" y2="226.2708" stroke="#111" stroke-width="1"/>
<line x1="358.75" y1="226.2708" x2="361.75" y2="226.2708" stroke="#111" stroke-width="1"/>
<rect x="358.1" y="233.24900000000002" width="4.3" height="63.750999999999976" fill="#6d6d6d" stroke="#333" stroke-width="1"/>
<line x1="365.55" y1="212.25240000000002" x2="365.55" y2="204.28740000000002" stroke="#111" stroke-width="1"/>
<line x1="364.05" y1="204.28740000000002" x2="367.05" y2="204.28740000000002" stroke="#111" stroke-width="1"/>
<rect x="363.40000000000003" y="212.75240000000002" width="4.3" height="84.24759999999998" fill="#d6d6d6" stroke="#666" stroke-width="1"/>
<line x1="370.84999999999997" y1="232.32420000000002" x2="370.84999999999997" y2="226.2708" stroke="#111" stroke-width="1"/>
<line x1="369.34999999999997" y1="226.2708" x2="372.34999999999997" y2="226.2708" stroke="#111" stroke-width="1"/>
<rect x="368.7" y="232.82420000000002" width="4.3" height="64.17579999999998" fill="#000" stroke="#000" stroke-width="1"/>
<line x1="382.95" y1="283.9374" x2="382.95" y2="282.663" stroke="#111" stroke-width="1"/>
<line x1="381.45" y1="282.663" x2="384.45" y2="282.663" stroke="#111" stroke-width="1"/>
<rect x="380.8" y="284.4374" width="4.3" height="12.562599999999975" fill="#ececec" stroke="#777" stroke-width="1"/>
<line x1="388.25" y1="239.9706" x2="388.25" y2="234.342" stroke="#111" stroke-width="1"/>
<line x1="386.75" y1="234.342" x2="389.75" y2="234.342" stroke="#111" stroke-width="1"/>
<rect x="386.1" y="240.4706" width="4.3" height="56.52940000000001" fill="#6d6d6d" stroke="#333" stroke-width="1"/>
<line x1="393.55" y1="220.4298" x2="393.55" y2="212.78340000000003" stroke="#111" stroke-width="1"/>
<line x1="392.05" y1="212.78340000000003" x2="395.05" y2="212.78340000000003" stroke="#111" stroke-width="1"/>
<rect x="391.40000000000003" y="220.9298" width="4.3" height="76.0702" fill="#d6d6d6" stroke="#666" stroke-width="1"/>
<line x1="398.84999999999997" y1="239.2272" x2="398.84999999999997" y2="233.3862" stroke="#111" stroke-width="1"/>
<line x1="397.34999999999997" y1="233.3862" x2="400.34999999999997" y2="233.3862" stroke="#111" stroke-width="1"/>
<rect x="396.7" y="239.7272" width="4.3" height="57.27279999999999" fill="#000" stroke="#000" stroke-width="1"/>
<line x1="410.95" y1="284.5746" x2="410.95" y2="283.3002" stroke="#111" stroke-width="1"/>
<line x1="409.45" y1="283.3002" x2="412.45" y2="283.3002" stroke="#111" stroke-width="1"/>
<rect x="408.8" y="285.0746" width="4.3" height="11.925400000000025" fill="#ececec" stroke="#777" stroke-width="1"/>
<line x1="416.25" y1="241.3512" x2="416.25" y2="235.935" stroke="#111" stroke-width="1"/>
<line x1="414.75" y1="235.935" x2="417.75" y2="235.935" stroke="#111" stroke-width="1"/>
<rect x="414.1" y="241.8512" width="4.3" height="55.148799999999994" fill="#6d6d6d" stroke="#333" stroke-width="1"/>
<line x1="421.55" y1="223.08480000000003" x2="421.55" y2="215.3322" stroke="#111" stroke-width="1"/>
<line x1="420.05" y1="215.3322" x2="423.05" y2="215.3322" stroke="#111" stroke-width="1"/>
<rect x="419.40000000000003" y="223.58480000000003" width="4.3" height="73.41519999999997" fill="#d6d6d6" stroke="#666" stroke-width="1"/>
<line x1="426.84999999999997" y1="240.2892" x2="426.84999999999997" y2="235.0854" stroke="#111" stroke-width="1"/>
<line x1="425.34999999999997" y1="235.0854" x2="428.34999999999997" y2="235.0854" stroke="#111" stroke-width="1"/>
<rect x="424.7" y="240.7892" width="4.3" height="56.210800000000006" fill="#000" stroke="#000" stroke-width="1"/>
<line x1="438.95" y1="284.5746" x2="438.95" y2="283.3002" stroke="#111" stroke-width="1"/>
<line x1="437.45" y1="283.3002" x2="440.45" y2="283.3002" stroke="#111" stroke-width="1"/>
<rect x="436.8" y="285.0746" width="4.3" height="11.925400000000025" fill="#ececec" stroke="#777" stroke-width="1"/>
<line x1="444.25" y1="243.369" x2="444.25" y2="237.52800000000002" stroke="#111" stroke-width="1"/>
<line x1="442.75" y1="237.52800000000002" x2="445.75" y2="237.52800000000002" stroke="#111" stroke-width="1"/>
<rect x="442.1" y="243.869" width="4.3" height="53.131" fill="#6d6d6d" stroke="#333" stroke-width="1"/>
<line x1="449.55" y1="224.25300000000001" x2="449.55" y2="216.5004" stroke="#111" stroke-width="1"/>
<line x1="448.05" y1="216.5004" x2="451.05" y2="216.5004" stroke="#111" stroke-width="1"/>
<rect x="447.40000000000003" y="224.75300000000001" width="4.3" height="72.24699999999999" fill="#d6d6d6" stroke="#666" stroke-width="1"/>
<line x1="454.84999999999997" y1="245.1744" x2="454.84999999999997" y2="239.8644" stroke="#111" stroke-width="1"/>
<line x1="453.34999999999997" y1="239.8644" x2="456.34999999999997" y2="239.8644" stroke="#111" stroke-width="1"/>
<rect x="452.7" y="245.6744" width="4.3" height="51.32560000000001" fill="#000" stroke="#000" stroke-width="1"/>
<line x1="466.95" y1="286.1676" x2="466.95" y2="285.1056" stroke="#111" stroke-width="1"/>
<line x1="465.45" y1="285.1056" x2="468.45" y2="285.1056" stroke="#111" stroke-width="1"/>
<rect x="464.8" y="286.6676" width="4.3" height="10.332400000000007" fill="#ececec" stroke="#777" stroke-width="1"/>
<line x1="472.25" y1="266.3082" x2="472.25" y2="262.6974" stroke="#111" stroke-width="1"/>
<line x1="470.75" y1="262.6974" x2="473.75" y2="262.6974" stroke="#111" stroke-width="1"/>
<rect x="470.1" y="266.8082" width="4.3" height="30.1918" fill="#6d6d6d" stroke="#333" stroke-width="1"/>
<line x1="477.55" y1="241.6698" x2="477.55" y2="235.935" stroke="#111" stroke-width="1"/>
<line x1="476.05" y1="235.935" x2="479.05" y2="235.935" stroke="#111" stroke-width="1"/>
<rect x="475.40000000000003" y="242.1698" width="4.3" height="54.83019999999999" fill="#d6d6d6" stroke="#666" stroke-width="1"/>
<line x1="482.84999999999997" y1="264.39660000000003" x2="482.84999999999997" y2="260.892" stroke="#111" stroke-width="1"/>
<line x1="481.34999999999997" y1="260.892" x2="484.34999999999997" y2="260.892" stroke="#111" stroke-width="1"/>
<rect x="480.7" y="264.89660000000003" width="4.3" height="32.103399999999965" fill="#000" stroke="#000" stroke-width="1"/>
<line x1="321.1" y1="297.0" x2="321.1" y2="323.4" stroke="#777777" stroke-width="1"/>
<line x1="349.0" y1="297.0" x2="349.0" y2="310.2" stroke="#777777" stroke-width="1"/>
<line x1="376.90000000000003" y1="297.0" x2="376.90000000000003" y2="323.4" stroke="#777777" stroke-width="1"/>
<line x1="404.8" y1="297.0" x2="404.8" y2="310.2" stroke="#777777" stroke-width="1"/>
<line x1="432.70000000000005" y1="297.0" x2="432.70000000000005" y2="323.4" stroke="#777777" stroke-width="1"/>
<line x1="460.6" y1="297.0" x2="460.6" y2="310.2" stroke="#777777" stroke-width="1"/>
<line x1="488.5" y1="297.0" x2="488.5" y2="323.4" stroke="#777777" stroke-width="1"/>
<text x="335.0" y="308.4" font-size="7.2" text-anchor="middle" font-weight="bold" fill="#000">PBS</text>
<text x="363.0" y="308.4" font-size="7.2" text-anchor="middle" font-weight="bold" fill="#000">DOX</text>
<text x="391.0" y="308.4" font-size="7.2" text-anchor="middle" font-weight="bold" fill="#000">PBS</text>
<text x="419.0" y="308.4" font-size="7.2" text-anchor="middle" font-weight="bold" fill="#000">DOX</text>
<text x="447.0" y="308.4" font-size="7.2" text-anchor="middle" font-weight="bold" fill="#000">PBS</text>
<text x="475.0" y="308.4" font-size="7.2" text-anchor="middle" font-weight="bold" fill="#000">DOX</text>
<text x="349.1" y="320.9" font-size="7.4" text-anchor="middle" font-weight="bold" fill="#000">Parental</text>
<text x="405.1" y="320.9" font-size="7.4" text-anchor="middle" font-weight="bold" fill="#000">Svec</text>
<text x="461.1" y="320.9" font-size="7.4" text-anchor="middle" font-weight="bold" fill="#000">S80</text>
<polyline points="415.3,230.5 415.3,199.6 472.4,199.6 472.4,257.0" fill="none" stroke="#6e6e6e" stroke-width="1.1"/>
<text x="441.7" y="195.7" font-size="7.2" text-anchor="middle" font-weight="bold"><tspan font-style="italic">P</tspan> &lt; 0.01</text>
<rect x="489.8" y="210.0" width="3.0" height="3.2" fill="#ececec" stroke="#222" stroke-width="0.7"/>
<text x="493.9" y="214.3" font-size="6.7" text-anchor="start" font-weight="bold" fill="#000">Control</text>
<rect x="489.8" y="221.2" width="3.0" height="3.2" fill="#6d6d6d" stroke="#222" stroke-width="0.7"/>
<text x="493.9" y="225.5" font-size="6.7" text-anchor="start" font-weight="bold" fill="#000">BTZ</text>
<rect x="489.8" y="232.0" width="3.0" height="3.2" fill="#d6d6d6" stroke="#222" stroke-width="0.7"/>
<text x="493.9" y="236.3" font-size="6.7" text-anchor="start" font-weight="bold" fill="#000">&#945;-gp80</text>
<rect x="489.8" y="242.6" width="3.0" height="3.2" fill="#000" stroke="#222" stroke-width="0.7"/>
<text x="493.9" y="246.9" font-size="6.7" text-anchor="start" font-weight="bold" fill="#000">IgG1</text>
</svg>
</body></html>
